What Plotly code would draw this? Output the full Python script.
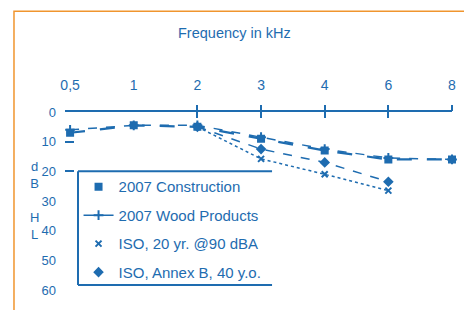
import plotly.graph_objects as go

# ---- data ----
freq_labels = ["0,5", "1", "2", "3", "4", "6", "8"]
construction = [7, 4.5, 5, 9, 13, 16, 16]
wood_products = [6, 4.5, 4.5, 8.5, 12.5, 15.5, 16]
iso_20yr = [None, None, 5, 15.8, 21, 26.5, None]
iso_annex_b = [None, None, 5, 12.5, 17, 23.5, None]
y_ticks = [0, 10, 20, 30, 40, 50, 60]

BLUE = "#1e6cb0"
ORANGE = "#f0952e"
FONT = "Liberation Sans, Arial, sans-serif"

fig = go.Figure()

series = [
    ("2007 Construction", construction, "longdash", 2.2, "square", 6),
    ("2007 Wood Products", wood_products, "dash", 1.5, "cross-thin", 7),
    ("ISO, 20 yr. @90 dBA", iso_20yr, "dot", 1.5, "x-thin", 6),
    ("ISO, Annex B, 40 y.o.", iso_annex_b, "dash", 1.5, "diamond", 6),
]
for name, vals, dash, w, sym, sz in series:
    fig.add_trace(go.Scatter(
        x=freq_labels, y=vals, mode="lines+markers", name=name,
        line=dict(color=BLUE, width=w, dash=dash),
        marker=dict(symbol=sym, size=sz, color=BLUE, line=dict(color=BLUE, width=2)),
        showlegend=False, cliponaxis=False, connectgaps=False,
    ))

# legend entries
leg_modes = ["markers", "lines+markers", "markers", "markers"]
for i, ((name, vals, dash, w, sym, sz), mode) in enumerate(zip(series, leg_modes)):
    fig.add_trace(go.Scatter(
        x=[None], y=[None], mode=mode, name=name, legendgroup=f"g{i}",
        line=dict(color=BLUE, width=1.5),
        marker=dict(symbol=sym, size=sz, color=BLUE, line=dict(color=BLUE, width=2)),
    ))

# invisible traces for tick-decoration axes
fig.add_trace(go.Scatter(x=[None], y=[None], xaxis="x2", yaxis="y2", showlegend=False, hoverinfo="skip"))
fig.add_trace(go.Scatter(x=[None], y=[None], xaxis="x3", yaxis="y2", showlegend=False, hoverinfo="skip"))

XR = [-0.08, 6]
fig.update_layout(
    width=464, height=302,
    margin=dict(l=57, r=20, t=104, b=18),
    paper_bgcolor="white", plot_bgcolor="white",
    font=dict(family=FONT, color=BLUE, size=13),
    xaxis=dict(
        type="category", categoryorder="array", categoryarray=freq_labels,
        side="top", range=XR, showgrid=False, zeroline=False,
        showline=True, linecolor=BLUE, linewidth=2, ticks="",
        ticklabelstandoff=14, tickfont=dict(size=14, color=BLUE),
    ),
    yaxis=dict(
        range=[60, 0], tickvals=y_ticks, showgrid=False, zeroline=False,
        showline=False, ticks="", ticklabelstandoff=8,
        tickfont=dict(size=13, color=BLUE),
    ),
    xaxis2=dict(overlaying="x", anchor="y2", side="top", range=XR, type="linear",
                tickvals=[2, 3, 4, 5, 6], ticks="inside", ticklen=6, tickwidth=1.5,
                tickcolor=BLUE, showticklabels=False, showgrid=False, zeroline=False,
                showline=False),
    xaxis3=dict(overlaying="x", anchor="y2", side="top", range=XR, type="linear",
                tickvals=[2, 3, 4, 5, 6], ticks="outside", ticklen=6, tickwidth=1.5,
                tickcolor=BLUE, showticklabels=False, showgrid=False, zeroline=False,
                showline=False),
    yaxis2=dict(overlaying="y", anchor="x2", range=[60, 0], tickvals=[10, 20, 60],
                ticks="inside", ticklen=9, tickwidth=1.5, tickcolor=BLUE,
                showticklabels=False, showgrid=False, zeroline=False, showline=False),
    legend=dict(
        x=0.035, y=0.672, xanchor="left", yanchor="top",
        bgcolor="rgba(255,255,255,0)", borderwidth=0,
        font=dict(size=15, color=BLUE, family=FONT),
        traceorder="grouped", tracegroupgap=6,
    ),
    showlegend=True,
    annotations=[
        dict(text="Frequency in kHz", x=0.4367, y=1.444, xref="paper", yref="paper",
             xanchor="center", yanchor="middle",
             showarrow=False, font=dict(size=14.5, color=BLUE)),
        dict(text="d<br>B<br><br>H<br>L", x=-0.080, y=0.5056, xref="paper", yref="paper",
             xanchor="center", yanchor="middle",
             showarrow=False, align="center", font=dict(size=13, color=BLUE)),
    ],
    shapes=[
        # orange frame
        dict(type="rect", xref="paper", yref="paper", x0=-0.1318, x1=1.0413, y0=-0.2, y1=1.5667,
             line=dict(color=ORANGE, width=1.5), layer="below"),
        # legend box (left, top, bottom)
        dict(type="line", xref="paper", yref="paper", x0=0.0336, x1=0.535, y0=0.667, y1=0.667,
             line=dict(color=BLUE, width=2)),
        dict(type="line", xref="paper", yref="paper", x0=0.0336, x1=0.535, y0=0.028, y1=0.028,
             line=dict(color=BLUE, width=2)),
        dict(type="line", xref="paper", yref="paper", x0=0.0336, x1=0.0336, y0=0.028, y1=0.667,
             line=dict(color=BLUE, width=2)),
    ],
)

fig.write_html("out.html")
